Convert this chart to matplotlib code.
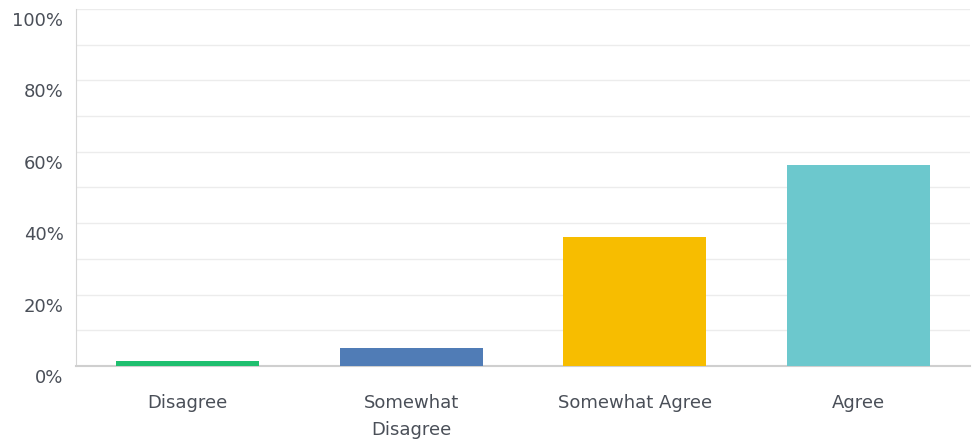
import matplotlib.pyplot as plt
from matplotlib.ticker import MultipleLocator, FuncFormatter
from matplotlib.transforms import ScaledTranslation

categories = ['Disagree', 'Somewhat\nDisagree', 'Somewhat Agree', 'Agree']
percentages = [1.5, 5.0, 36.0, 56.2]
colors = ['#1fbf6f', '#507cb6', '#f7bd00', '#6cc8cd']

plt.rcParams['font.family'] = ['DejaVu Sans']

fig = plt.figure(figsize=(9.74, 4.42), dpi=100)
ax = fig.add_axes([0.078, 0.172, 0.918, 0.808])

x = range(len(categories))
ax.bar(x, percentages, width=0.64, color=colors, zorder=3)

ax.set_xlim(-0.5, len(categories) - 0.5)
ax.set_ylim(0, 100)
ax.yaxis.set_major_locator(MultipleLocator(20))
ax.yaxis.set_minor_locator(MultipleLocator(10))
ax.yaxis.set_major_formatter(FuncFormatter(lambda v, p: f'{int(v)}%'))
ax.grid(axis='y', which='both', color='#ececec', linewidth=1, zorder=0)

ax.set_xticks(list(x))
ax.set_xticklabels(categories, va='top', linespacing=1.65)

for side in ['top', 'right']:
    ax.spines[side].set_visible(False)
ax.spines['left'].set_color('#d6d6d6')
ax.spines['bottom'].set_color('#cfcfcf')
ax.spines['bottom'].set_linewidth(1.5)

ax.tick_params(axis='both', which='both', length=0, colors='#4a4f58', labelsize=13)
ax.tick_params(axis='y', pad=9)
ax.tick_params(axis='x', pad=20)

# y labels sit a bit below their gridlines
shift = ScaledTranslation(0, -12 / 100, fig.dpi_scale_trans)
for lbl in ax.get_yticklabels():
    lbl.set_va('center')
    lbl.set_transform(lbl.get_transform() + shift)

plt.savefig('out.png', dpi=100)
